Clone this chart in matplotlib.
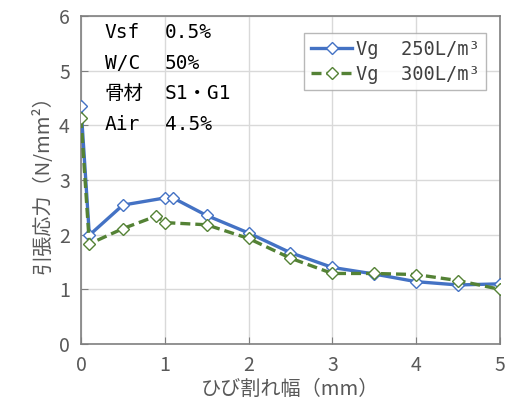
import matplotlib
matplotlib.use("Agg")
import matplotlib.pyplot as plt

plt.rcParams['font.family'] = ['Noto Sans CJK JP', 'DejaVu Sans']

x250 = [0, 0.1, 0.5, 1.0, 1.1, 1.5, 2.0, 2.5, 3.0, 3.5, 4.0, 4.5, 5.0]
y250 = [4.35, 1.99, 2.54, 2.67, 2.67, 2.35, 2.03, 1.67, 1.40, 1.28, 1.14, 1.08, 1.10]
x300 = [0, 0.1, 0.5, 0.9, 1.0, 1.5, 2.0, 2.5, 3.0, 3.5, 4.0, 4.5, 5.0]
y300 = [4.13, 1.83, 2.11, 2.34, 2.22, 2.18, 1.93, 1.57, 1.29, 1.29, 1.27, 1.16, 1.00]

info_keys = ["Vsf", "W/C", "骨材", "Air"]
info_vals = ["0.5%", "50%", "S1・G1", "4.5%"]

mono = ['DejaVu Sans Mono', 'Noto Sans CJK JP']

fig = plt.figure(figsize=(5.06, 4.16), dpi=100)
ax = fig.add_axes([0.160, 0.173, 0.828, 0.789])

ax.plot(x250, y250, color="#4472C4", lw=2.4, marker="D", ms=6,
        mfc="white", mec="#4472C4", mew=1.0, label="Vg  250L/m³", zorder=3)
ax.plot(x300, y300, color="#548235", lw=2.4, ls=(0, (3, 1.5)), marker="D", ms=6,
        mfc="white", mec="#548235", mew=1.0, label="Vg  300L/m³", zorder=3)

ax.set_xlim(0, 5)
ax.set_ylim(0, 6)
ax.set_xticks(range(6))
ax.set_yticks(range(7))
ax.grid(color="#D9D9D9", lw=1)
ax.set_axisbelow(True)
for s in ax.spines.values():
    s.set_color("#7F7F7F")
    s.set_linewidth(1.2)
ax.tick_params(direction="in", length=5, color="#7F7F7F", labelsize=14,
               labelcolor="#595959", pad=8)

ax.set_xlabel("ひび割れ幅（mm）", fontsize=14.5, color="#595959", labelpad=2)
ax.set_ylabel("引張応力（N/mm²）", fontsize=14.5, color="#595959", labelpad=4)

for i, (k, v) in enumerate(zip(info_keys, info_vals)):
    yy = 0.948 - i * 0.093
    ax.text(0.057, yy, k, transform=ax.transAxes, fontsize=14, va="center",
            family=mono)
    ax.text(0.20, yy, v, transform=ax.transAxes, fontsize=14, va="center",
            family=mono)

leg = ax.legend(loc="upper right", bbox_to_anchor=(0.99, 0.975),
                prop={'family': mono, 'size': 13.5},
                frameon=True, fancybox=False, edgecolor="#A6A6A6",
                handlelength=2.2, handletextpad=0.2, borderpad=0.35,
                labelspacing=0.3)
for t in leg.get_texts():
    t.set_color("#404040")

fig.savefig("out.png", dpi=100)
